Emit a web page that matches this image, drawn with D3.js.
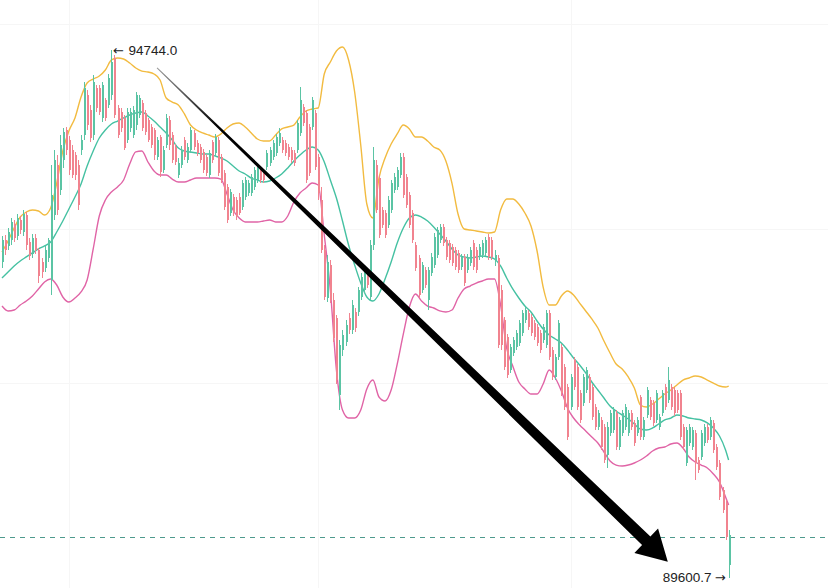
<!DOCTYPE html>
<html><head><meta charset="utf-8">
<script src="https://cdn.jsdelivr.net/npm/d3@7"></script>
<style>html,body{margin:0;padding:0;background:#fff;} svg{display:block;}</style>
</head><body>
<svg id="chart" width="828" height="588"></svg>
<script>
const opens = [
92679,92893,92835,92893,93049,92932,93088,92971,93136,92874,
92757,92913,92796,92679,92620,92718,92504,93136,93624,93380,
93672,93965,93867,93770,93721,93624,93770,93916,94306,94160,
93916,94374,94374,94082,94257,94208,94306,94666,94179,94140,
94082,93867,93984,93916,94013,94111,94228,94130,94062,93994,
93965,93702,93897,93575,93818,94062,93916,93799,93526,93624,
93867,93672,93770,93936,93838,93799,93751,93702,93526,93848,
93741,93867,93702,93546,93410,93156,93312,93283,93312,93215,
93312,93351,93351,93410,93478,93575,93546,93604,93643,93702,
93741,93838,93867,93838,93799,93770,93741,93770,93936,94189,
94130,93994,93994,94130,93702,93283,92796,92328,92650,92309,
92133,91383,91822,91900,92133,92016,92192,92192,92338,92406,
92582,92338,92844,93624,93497,93185,93156,93039,93185,93380,
93410,93526,93702,93507,93331,93156,92844,92718,92406,92601,
92309,92572,92650,92747,92893,93020,92893,92864,92825,92796,
92767,92630,92728,92601,92669,92864,92796,92728,92747,92767,
92923,92893,92698,92718,92406,92114,91948,91627,91792,91851,
91890,91987,92114,92182,92143,92085,92046,91987,91919,91870,
92182,91822,91559,91754,91851,91656,91461,91267,91724,91656,
91403,91305,91432,91559,91461,91267,91072,91140,91072,90799,
91013,91042,91208,90877,91013,91072,91013,91208,91111,91013,
91364,90974,91188,91335,91305,91140,91072,91208,91461,91335,
91461,91432,91403,91403,91072,90721,90916,90877,91013,90750,
90780,90916,91072,90974,91111,90877,90721,90458,90331,89727];
const highs = [
92933,92942,93010,93107,93088,93146,93127,93185,93166,92913,
92952,92952,92815,92718,92835,92913,93624,93770,93721,93916,
93984,93994,93906,93818,93751,93672,93916,94432,94354,94208,
94500,94403,94403,94432,94276,94510,94744.0,94695,94208,94179,
94111,94179,94179,94199,94335,94306,94257,94160,94082,94023,
93984,93897,93916,93809,94121,94102,93945,93828,93692,93809,
93897,93838,93994,93965,93867,93828,93779,93731,93770,93867,
93926,93897,93731,93575,93439,93390,93341,93312,93351,93478,
93507,93478,93536,93604,93643,93604,93575,93770,93799,93867,
93926,93984,93897,93867,93828,93799,93770,94062,94384,94218,
94160,94023,94286,94160,93731,93410,92844,92747,92698,92377,
92162,91919,92016,92114,92182,92309,92231,92436,92572,92640,
92620,92893,93799,93672,93526,93215,93185,93322,93478,93546,
93604,93741,93741,93536,93361,93185,92874,92747,92679,92630,
92630,92767,92962,93020,93049,93049,92923,92893,92854,92825,
92796,92757,92757,92757,92825,92893,92825,92854,92893,92923,
92952,92923,92796,92747,92455,92143,91977,91880,91948,92016,
92114,92211,92241,92211,92172,92114,92075,92016,92075,92211,
92211,91851,91783,92114,91880,91685,91490,91588,91754,91685,
91432,91588,91656,91588,91490,91296,91237,91169,91101,91120,
91237,91267,91237,91169,91237,91296,91237,91237,91140,91169,
91383,91169,91461,91364,91335,91432,91198,91432,91490,91656,
91490,91461,91432,91432,91101,91072,91101,91072,91042,90780,
91042,91101,91101,91169,91140,90906,90750,90487,90360,90068];
const lows = [
92620,92747,92796,92844,92874,92893,92952,92932,92796,92698,
92718,92757,92474,92523,92582,92679,92357,93088,93136,93331,
93595,93721,93526,93497,93478,93185,93721,93867,93965,93848,
93867,94140,94111,94043,94052,94179,94257,94082,93887,93945,
93770,93838,93945,93887,93965,94082,93955,93916,93848,93789,
93672,93672,93507,93546,93789,93770,93643,93624,93497,93595,
93672,93643,93741,93770,93712,93643,93546,93517,93497,93643,
93712,93517,93448,93185,93059,93127,93127,93088,93136,93185,
93283,93322,93322,93380,93448,93448,93448,93575,93614,93672,
93712,93809,93741,93712,93672,93643,93614,93741,93906,94004,
93448,93517,93965,93575,93283,92767,92309,92289,92280,91900,
91490,91237,91763,91861,91977,91977,91997,92153,92309,92377,
92426,92309,92796,93156,92913,93010,92913,93010,93156,93351,
93380,93497,93302,93205,93010,92864,92591,92328,92377,92426,
92211,92542,92620,92718,92864,92835,92698,92669,92640,92601,
92572,92601,92446,92572,92640,92601,92572,92698,92718,92737,
92698,92698,92640,91841,91822,91627,91549,91598,91763,91822,
91861,91958,92085,92016,91958,91919,91861,91792,91890,91841,
91724,91529,91529,91724,91374,91237,90945,91237,91432,91237,
91111,91276,91403,91305,91140,91042,91042,90848,90721,90672,
90984,91013,90848,90848,90984,91042,90984,91042,90887,90984,
90945,90945,91159,91140,91081,91111,91042,91179,91237,91305,
91237,91179,91208,90945,90848,90692,90887,90848,90555,90624,
90750,90887,90916,90945,90818,90653,90360,90234,89971,89600.7];
const closes = [
92893,92796,92971,93069,92913,93107,92991,93146,92844,92737,
92913,92796,92542,92582,92796,92893,93331,93672,93185,93818,
93945,93770,93575,93526,93526,93234,93867,94374,94013,93887,
94432,94179,94140,94403,94082,94471,94627,94111,93916,93984,
93789,94140,94140,94160,94306,94276,93984,93945,93867,93818,
93721,93867,93556,93770,94082,93818,93672,93653,93643,93770,
93702,93799,93965,93799,93741,93672,93575,93546,93741,93672,
93897,93546,93478,93215,93088,93361,93156,93117,93156,93448,
93478,93448,93507,93575,93604,93478,93478,93741,93770,93838,
93897,93936,93770,93741,93702,93672,93643,94033,94257,94033,
93478,93546,94257,93604,93351,92796,92338,92679,92309,91938,
91529,91870,91967,92065,92016,92260,92036,92406,92533,92601,
92455,92844,93672,93185,92942,93039,92942,93283,93448,93507,
93575,93702,93331,93234,93039,92893,92620,92357,92650,92455,
92601,92728,92923,92991,93020,92864,92728,92698,92669,92630,
92601,92728,92474,92728,92796,92630,92601,92825,92864,92893,
92728,92728,92747,91870,91870,91656,91578,91851,91919,91987,
92085,92182,92211,92046,91987,91948,91890,91822,92046,92182,
91754,91559,91754,92085,91403,91267,90974,91559,91461,91267,
91140,91559,91627,91335,91169,91072,91208,90877,90750,91072,
91208,91237,90877,91140,91208,91267,91208,91072,90916,91140,
90974,91140,91432,91169,91111,91403,91169,91403,91267,91529,
91267,91208,91237,90974,90877,91042,91072,91042,90721,90653,
91013,91072,90945,91140,90848,90682,90390,90263,90000,90019];

// Bollinger bands, read every 2nd candle (last value on the final candle)
const bandStep = 2;
const upperBand = [
92776,92883,93010,93117,93166,93185,93176,93137,93205,93448,
93760,93955,94082,94286,94423,94461,94491,94549,94647,94666,
94656,94617,94569,94539,94530,94510,94452,94276,94237,94208,
94121,94013,93965,93936,93916,93896,93926,93984,94023,94033,
93994,93936,93877,93858,93858,93916,93975,93994,94013,94091,
94150,94169,94179,94510,94627,94734,94773,94647,94335,93819,
93244,93108,93497,93692,93828,93926,94013,93975,93896,93896,
93858,93799,93770,93663,93448,93146,93000,92991,92981,92971,
92961,92971,93185,93293,93293,93244,93156,93030,92786,92435,
92260,92260,92348,92396,92357,92279,92202,92124,92036,91909,
91792,91685,91637,91559,91452,91286,91266,91296,91344,91393,
91432,91481,91529,91549,91568,91559,91529,91500,91471,91461,
91471];
const middleBand = [
92523,92582,92640,92689,92728,92767,92806,92835,92874,92971,
93078,93195,93312,93439,93614,93760,93887,93965,94023,94052,
94082,94111,94130,94140,94101,94052,93994,93936,93867,93789,
93760,93750,93741,93731,93731,93712,93692,93663,93614,93565,
93536,93497,93478,93458,93468,93497,93536,93595,93663,93721,
93770,93799,93770,93653,93478,93302,93078,92844,92650,92474,
92338,92299,92367,92513,92679,92864,93010,93108,93137,93117,
93078,93020,92952,92883,92806,92747,92728,92718,92728,92737,
92728,92708,92640,92523,92416,92328,92250,92192,92104,92026,
91967,91929,91890,91822,91744,91676,91598,91510,91432,91354,
91276,91228,91188,91150,91101,91052,91042,91062,91101,91140,
91159,91188,91179,91159,91150,91140,91111,91062,90984,90848,
90750];
const lowerBand = [
92250,92202,92211,92260,92299,92348,92416,92484,92513,92455,
92338,92289,92328,92387,92504,92806,93127,93283,93361,93410,
93478,93634,93751,93760,93653,93565,93526,93526,93487,93458,
93458,93478,93497,93497,93497,93497,93487,93341,93185,93108,
93069,93069,93069,93078,93088,93069,93069,93127,93263,93351,
93400,93448,93429,92942,92406,91627,91237,91159,91159,91237,
91442,91529,91364,91325,91432,91685,91977,92241,92367,92299,
92250,92231,92202,92192,92211,92328,92416,92445,92474,92494,
92513,92513,92260,91841,91666,91510,91442,91393,91393,91490,
91627,91549,91422,91257,91159,91091,91033,90974,90916,90828,
90740,90701,90692,90701,90721,90750,90789,90838,90867,90877,
90906,90916,90867,90779,90731,90701,90672,90614,90536,90390,
90312];

const gridPrices = [95000, 93000, 91500];
const gridCandles = [22, 104, 187];
const refPrice = 90000;
const arrowFrom = {candle: 51, price: 94570};
const arrowTo = {candle: 219, price: 89760};

const W = 828, H = 588;
const n = opens.length;
const svg = d3.select("#chart");
const x = d3.scaleLinear().domain([0, n - 1]).range([2, 728.6]);
const y = d3.scaleLinear().domain([89600.7, 94744.0]).range([578, 50]);

// faint grid
const grid = svg.append("g").attr("stroke", "#f6f6f6").attr("stroke-width", 1).attr("shape-rendering", "crispEdges");
grid.selectAll("line.h").data(gridPrices).join("line").attr("class", "h")
  .attr("x1", 0).attr("x2", W).attr("y1", d => Math.round(y(d)) + 0.5).attr("y2", d => Math.round(y(d)) + 0.5);
grid.selectAll("line.v").data(gridCandles).join("line").attr("class", "v")
  .attr("y1", 0).attr("y2", H).attr("x1", d => Math.round(x(d)) + 0.5).attr("x2", d => Math.round(x(d)) + 0.5);

// reference dashed line
svg.append("line")
  .attr("x1", 0).attr("x2", W)
  .attr("y1", Math.round(y(refPrice)) + 0.5).attr("y2", Math.round(y(refPrice)) + 0.5)
  .attr("stroke", "#4e9a8d").attr("stroke-width", 1.1).attr("stroke-dasharray", "5,5");

// bands
const bandX = (d, i) => x(Math.min(i * bandStep, n - 1));
const line = d3.line().x(bandX).y(d => y(d)).curve(d3.curveMonotoneX);
[[upperBand, "#f2bb40"], [middleBand, "#45c1a2"], [lowerBand, "#e064a6"]].forEach(([arr, col]) => {
  svg.append("path").datum(arr).attr("d", line)
    .attr("fill", "none").attr("stroke", col).attr("stroke-width", 1.4);
});

// candles
const candles = d3.range(n).map(i => ({i, o: opens[i], h: highs[i], l: lows[i], c: closes[i]}));
const upCol = "#5bc4a4", downCol = "#f1838f";
const cg = svg.append("g").attr("shape-rendering", "crispEdges");
const g = cg.selectAll("g").data(candles).join("g");
g.append("line")
  .attr("x1", d => Math.round(x(d.i)) + 0.5).attr("x2", d => Math.round(x(d.i)) + 0.5)
  .attr("y1", d => y(d.h)).attr("y2", d => y(d.l))
  .attr("stroke", d => d.c >= d.o ? upCol : downCol).attr("stroke-width", 1);
g.append("rect")
  .attr("x", d => Math.round(x(d.i)))
  .attr("width", 2)
  .attr("y", d => y(Math.max(d.o, d.c)))
  .attr("height", d => Math.max(1, Math.abs(y(d.o) - y(d.c))))
  .attr("fill", d => d.c >= d.o ? upCol : downCol);

// big tapered arrow
const S = [x(arrowFrom.candle), y(arrowFrom.price)];
const T = [x(arrowTo.candle), y(arrowTo.price)];
const dx = T[0] - S[0], dy = T[1] - S[1];
const len = Math.hypot(dx, dy);
const u = [dx / len, dy / len], nv = [-u[1], u[0]];
const headL = 30, headW = 17, w0 = 0.5, w1 = 6;
const B = [T[0] - u[0] * headL, T[1] - u[1] * headL];
const pt = (p, k) => [p[0] + nv[0] * k, p[1] + nv[1] * k];
const poly = [pt(S, w0), pt(B, w1), pt(B, headW), T, pt(B, -headW), pt(B, -w1), pt(S, -w0)];
const defs = svg.append("defs");
const grad = defs.append("linearGradient").attr("id", "ag").attr("gradientUnits", "userSpaceOnUse")
  .attr("x1", S[0]).attr("y1", S[1]).attr("x2", T[0]).attr("y2", T[1]);
grad.append("stop").attr("offset", 0).attr("stop-color", "#9a9a9a");
grad.append("stop").attr("offset", 0.12).attr("stop-color", "#000");
grad.append("stop").attr("offset", 1).attr("stop-color", "#000");
svg.append("path").attr("d", "M" + poly.map(p => p.join(",")).join("L") + "Z").attr("fill", "url(#ag)");

// high / low labels
const iMax = d3.maxIndex(highs), iMin = d3.minIndex(lows);
const fontFam = "'Liberation Sans', Arial, sans-serif";
const hx = x(iMax), hy = y(highs[iMax]);
svg.append("text").attr("x", hx + 1.5).attr("y", hy + 1).attr("dominant-baseline", "middle")
  .attr("font-family", "'DejaVu Sans', sans-serif").attr("font-size", 13).attr("fill", "#222").text("←");
svg.append("text").attr("x", hx + 17).attr("y", hy + 1).attr("dominant-baseline", "middle")
  .attr("font-family", fontFam).attr("font-size", 13.5).attr("fill", "#222").text(d3.format(".1f")(highs[iMax]));
const lx = x(iMin), ly = y(lows[iMin]);
svg.append("text").attr("x", lx - 3).attr("y", ly).attr("dominant-baseline", "middle").attr("text-anchor", "end")
  .attr("font-family", "'DejaVu Sans', sans-serif").attr("font-size", 13).attr("fill", "#222").text("→");
svg.append("text").attr("x", lx - 17).attr("y", ly).attr("dominant-baseline", "middle").attr("text-anchor", "end")
  .attr("font-family", fontFam).attr("font-size", 13.5).attr("fill", "#222").text(d3.format(".1f")(lows[iMin]));
</script>
</body></html>
